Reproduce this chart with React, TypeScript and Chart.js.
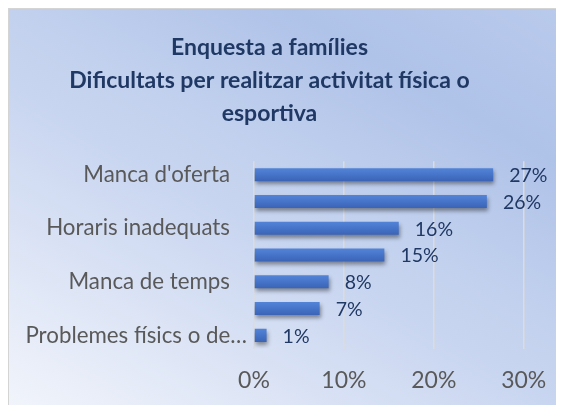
import React, { useEffect, useRef } from "react";
import { Chart, registerables } from "chart.js";

Chart.register(...registerables);

const categories = [
  "Manca d'oferta",
  "",
  "Horaris inadequats",
  "",
  "Manca de temps",
  "",
  "Problemes físics o de…",
];
const values = [26.6, 25.9, 16.1, 14.5, 8.3, 7.3, 1.4];
const xTicks = [0, 10, 20, 30];
const titleLines = [
  "Enquesta a famílies",
  "Dificultats per realitzar activitat física o",
  "esportiva",
];

const FONT = "Lato, 'Noto Sans', sans-serif";

const barPlugin = {
  id: "barDeco",
  beforeDatasetsDraw(chart: any) {
    const ctx = chart.ctx;
    ctx.save();
    ctx.shadowColor = "rgba(0,0,0,0.4)";
    ctx.shadowOffsetX = 1;
    ctx.shadowOffsetY = 3;
    ctx.shadowBlur = 4;
  },
  afterDatasetsDraw(chart: any) {
    const ctx = chart.ctx;
    ctx.restore();
    ctx.save();
    ctx.font = `19.5px ${FONT}`;
    ctx.fillStyle = "#203864";
    ctx.textAlign = "left";
    ctx.textBaseline = "middle";
    const meta = chart.getDatasetMeta(0);
    meta.data.forEach((el: any, i: number) => {
      ctx.fillText(Math.round(values[i]) + "%", el.x + 16, el.y + 1);
    });
    // category labels (every other one shown, as in the reference)
    const yScale = chart.scales.y;
    const left = chart.chartArea.left;
    ctx.font = `22.3px ${FONT}`;
    ctx.fillStyle = "#595959";
    ctx.textAlign = "right";
    categories.forEach((c, i) => {
      if (!c) return;
      const extra = i === categories.length - 1 ? 17 : 0;
      ctx.fillText(c, left - 24 + extra, yScale.getPixelForValue(i));
    });
    ctx.restore();
  },
};

export default function App() {
  const ref = useRef<HTMLCanvasElement>(null);
  useEffect(() => {
    if (!ref.current) return;
    const chart = new Chart(ref.current, {
      type: "bar",
      data: {
        labels: categories,
        datasets: [
          {
            data: values,
            backgroundColor: (ctx: any) => {
              const ch = ctx.chart;
              const ys = ch.scales && ch.scales.y;
              if (!ys || !ch.chartArea) return "#4472C4";
              const yc = ys.getPixelForValue(ctx.dataIndex);
              const g = ch.ctx.createLinearGradient(0, yc - 7, 0, yc + 7);
              g.addColorStop(0, "#5485d8");
              g.addColorStop(0.5, "#4674c8");
              g.addColorStop(1, "#3a62b4");
              return g;
            },
            borderWidth: 0,
            categoryPercentage: 1,
            barPercentage: 0.49,
          },
        ],
      },
      plugins: [barPlugin],
      options: {
        indexAxis: "y",
        animation: false,
        responsive: true,
        maintainAspectRatio: false,
        layout: { padding: { left: 5, right: 39, top: 0, bottom: 11 } },
        plugins: {
          legend: { display: false },
          tooltip: { enabled: false },
          title: {
            display: true,
            text: titleLines,
            color: "#1f3864",
            font: { family: FONT, size: 23, weight: "bold", lineHeight: 1.44 },
            padding: { top: 22, bottom: 31 },
          },
        },
        scales: {
          x: {
            min: 0,
            max: 30,
            afterBuildTicks: (scale: any) => {
              scale.ticks = xTicks.map((v) => ({ value: v }));
            },
            grid: { color: "#dedcd8", lineWidth: 1.5, drawTicks: false },
            border: { display: false },
            ticks: {
              color: "#595959",
              font: { family: FONT, size: 23 },
              padding: 17.7,
              callback: (v: any) => v + "%",
            },
            afterFit: (scale: any) => {
              scale.height = 45.3;
            },
          },
          y: {
            grid: { display: false, drawTicks: false },
            border: { display: false },
            ticks: { display: false },
            afterFit: (scale: any) => {
              scale.width = 240;
            },
          },
        },
      },
    });
    return () => chart.destroy();
  }, []);

  return (
    <div
      style={{
        width: 556,
        height: 397,
        boxSizing: "border-box",
        borderTop: "1px solid #d4d4d4",
        borderLeft: "1px solid #d4d4d4",
        background:
          "linear-gradient(30deg, #f1f4fb 0%, #c8d5f0 45%, #c2d1ee 55%, #afc2e8 78%, #b9caec 100%)",
      }}
    >
      <div style={{ position: "relative", width: 555, height: 396 }}>
        <canvas ref={ref} />
      </div>
    </div>
  );
}
